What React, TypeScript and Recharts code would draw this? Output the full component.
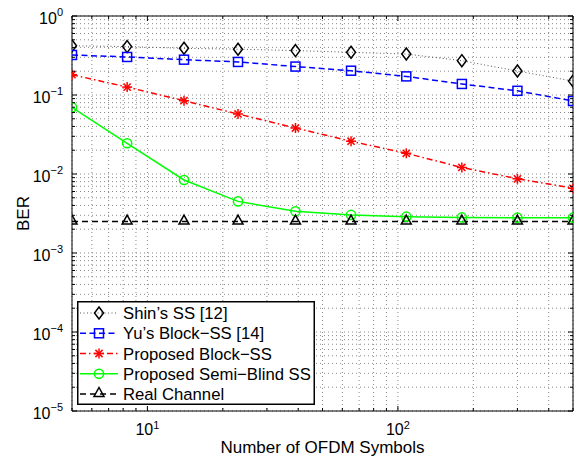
import React from 'react';
import { LineChart, Line, XAxis, YAxis, CartesianGrid, ReferenceArea, Legend } from 'recharts';

// ---- data ----
const symbols = [5, 8.3, 14, 23, 39, 65, 108, 180, 300, 500];
const shinSS = [0.42, 0.41, 0.39, 0.38, 0.365, 0.347, 0.33, 0.272, 0.201, 0.15];
const yuBlockSS = [0.321, 0.303, 0.28, 0.262, 0.229, 0.203, 0.172, 0.138, 0.113, 0.084];
const proposedBlockSS = [0.181, 0.126, 0.0847, 0.0575, 0.0382, 0.026, 0.0183, 0.0121, 0.0087, 0.0066];
const proposedSemiBlind = [0.0698, 0.0245, 0.0084, 0.0045, 0.00337, 0.00303, 0.00288, 0.00282, 0.0028, 0.0028];
const realChannel = [0.0025, 0.0025, 0.0025, 0.0025, 0.0025, 0.0025, 0.0025, 0.0025, 0.0025, 0.0025];

const xTicks = [5, 6, 7, 8, 9, 10, 20, 30, 40, 50, 60, 70, 80, 90, 100, 200, 300, 400, 500];
const yTicks = [
  1e-5, 2e-5, 3e-5, 4e-5, 5e-5, 6e-5, 7e-5, 8e-5, 9e-5,
  1e-4, 2e-4, 3e-4, 4e-4, 5e-4, 6e-4, 7e-4, 8e-4, 9e-4,
  1e-3, 2e-3, 3e-3, 4e-3, 5e-3, 6e-3, 7e-3, 8e-3, 9e-3,
  1e-2, 2e-2, 3e-2, 4e-2, 5e-2, 6e-2, 7e-2, 8e-2, 9e-2,
  1e-1, 2e-1, 3e-1, 4e-1, 5e-1, 6e-1, 7e-1, 8e-1, 9e-1,
  1,
];

const seriesNames = ['Shin’s SS [12]', 'Yu’s Block−SS [14]', 'Proposed Block−SS', 'Proposed Semi−Blind SS', 'Real Channel'];
const seriesKeys = ['shin', 'yu', 'block', 'semi', 'real'];

const data = symbols.map((x, i) => ({
  x,
  shin: shinSS[i],
  yu: yuBlockSS[i],
  block: proposedBlockSS[i],
  semi: proposedSemiBlind[i],
  real: realChannel[i],
}));

// ---- layout ----
const W = 578;
const H = 464;
const M_TOP = 16;
const M_RIGHT = 5;
const Y_AXIS_W = 72;
const X_AXIS_H = 53;
const PLOT_W = W - Y_AXIS_W - M_RIGHT;
const PLOT_H = H - M_TOP - X_AXIS_H;
const FONT = '"Liberation Sans", Arial, Helvetica, sans-serif';

const isMajor = (v: number) => Math.abs(Math.log10(v) - Math.round(Math.log10(v))) < 1e-6;
const expStr = (v: number) => {
  const e = Math.round(Math.log10(v));
  return e < 0 ? '−' + String(-e) : String(e);
};

// ---- markers ----
type MP = { cx: number; cy: number; legend?: boolean };
const Diamond = ({ cx, cy }: MP) => (
  <path d={`M${cx},${cy - 6} L${cx + 4.5},${cy} L${cx},${cy + 6} L${cx - 4.5},${cy} Z`} fill="none" stroke="#000" strokeWidth={1.5} />
);
const Square = ({ cx, cy }: MP) => (
  <rect x={cx - 4.5} y={cy - 4.5} width={9} height={9} fill="none" stroke="#0000ff" strokeWidth={1.5} />
);
const Star = ({ cx, cy }: MP) => (
  <g stroke="#ff0000" strokeWidth={1.5}>
    <line x1={cx - 5} x2={cx + 5} y1={cy} y2={cy} />
    <line x1={cx} x2={cx} y1={cy - 5} y2={cy + 5} />
    <line x1={cx - 3.6} x2={cx + 3.6} y1={cy - 3.6} y2={cy + 3.6} />
    <line x1={cx - 3.6} x2={cx + 3.6} y1={cy + 3.6} y2={cy - 3.6} />
  </g>
);
const Circ = ({ cx, cy }: MP) => <circle cx={cx} cy={cy} r={4.6} fill="none" stroke="#00ff00" strokeWidth={1.5} />;
const Tri = ({ cx, cy }: MP) => (
  <path d={`M${cx},${cy - 6.5} L${cx + 5},${cy + 2.5} L${cx - 5},${cy + 2.5} Z`} fill="none" stroke="#000" strokeWidth={1.5} />
);

const markers = [Diamond, Square, Star, Circ, Tri];
const strokes = ['#555', '#0000ff', '#ff0000', '#00ff00', '#000'];
const widths = [1, 1.5, 1.5, 1.5, 1.5];
const dashes = ['1 2.5', '6 3.5', '6 3 1.5 3', undefined, '6 4'];

// ---- ticks ----
const YTick = (props: any) => {
  const { x, y, payload } = props;
  const v = payload.value as number;
  const major = isMajor(v);
  const len = major ? 5 : 3;
  return (
    <g>
      <line x1={x} x2={x + len} y1={y} y2={y} stroke="#000" strokeWidth={1} />
      <line x1={x + PLOT_W - len} x2={x + PLOT_W} y1={y} y2={y} stroke="#000" strokeWidth={1} />
      {major && (
        <text x={x - 9} y={y + 7.5} textAnchor="end" fontSize={16} fill="#000" fontFamily={FONT}>
          10
          <tspan dy={-7.5} fontSize={11}>{expStr(v)}</tspan>
        </text>
      )}
    </g>
  );
};

const XTick = (props: any) => {
  const { x, y, payload } = props;
  const v = payload.value as number;
  const major = isMajor(v);
  const len = major ? 5 : 3;
  return (
    <g>
      <line x1={x} x2={x} y1={y} y2={y - len} stroke="#000" strokeWidth={1} />
      <line x1={x} x2={x} y1={y - PLOT_H} y2={y - PLOT_H + len} stroke="#000" strokeWidth={1} />
      {major && (
        <text x={x} y={y + 24} textAnchor="middle" fontSize={16} fill="#000" fontFamily={FONT}>
          10
          <tspan dy={-6.5} fontSize={11}>{expStr(v)}</tspan>
        </text>
      )}
    </g>
  );
};

// ---- legend ----
const LEG_W = 238;
const LEG_H = 104;
const rowY = [12, 32.3, 52.5, 72.8, 93];

const LegendBox = () => (
  <svg width={LEG_W} height={LEG_H} style={{ display: 'block' }}>
    <rect x={0.75} y={0.75} width={LEG_W - 1.5} height={LEG_H - 1.5} fill="#fff" stroke="#000" strokeWidth={1.5} />
    {seriesNames.map((name, i) => {
      const M = markers[i];
      const cy = rowY[i];
      return (
        <g key={name}>
          <line x1={3} x2={41} y1={cy} y2={cy} stroke={strokes[i]} strokeWidth={widths[i]} strokeDasharray={dashes[i]} />
          <M cx={22} cy={cy} />
          <text x={46} y={cy + 6} fontSize={16.7} fill="#000" fontFamily={FONT}>{name}</text>
        </g>
      );
    })}
  </svg>
);

export default function App() {
  return (
    <div style={{ position: 'absolute', left: 0, top: 0, background: '#fff' }}>
      <LineChart width={W} height={H} data={data} margin={{ top: M_TOP, right: M_RIGHT, bottom: 0, left: 0 }}>
        <CartesianGrid
          horizontalValues={yTicks}
          verticalValues={xTicks}
          stroke="#8a8a8a"
          strokeDasharray="1 3"
          strokeWidth={1}
        />
        <XAxis
          dataKey="x"
          type="number"
          scale="log"
          domain={[5, 500]}
          allowDataOverflow
          ticks={xTicks}
          interval={0}
          height={X_AXIS_H}
          axisLine={false}
          tickLine={false}
          tickSize={0}
          tickMargin={0}
          tick={<XTick />}
          label={{
            content: (p: any) => {
              const vb = p.viewBox || { x: Y_AXIS_W, y: M_TOP + PLOT_H, width: PLOT_W };
              return (
                <text x={vb.x + vb.width / 2} y={vb.y + 41.7} textAnchor="middle" fontSize={17} fill="#000" fontFamily={FONT}>
                  Number of OFDM Symbols
                </text>
              );
            },
          }}
        />
        <YAxis
          type="number"
          scale="log"
          domain={[1e-5, 1]}
          allowDataOverflow
          ticks={yTicks}
          interval={0}
          width={Y_AXIS_W}
          axisLine={false}
          tickLine={false}
          tickSize={0}
          tickMargin={0}
          tick={<YTick />}
          label={{
            content: (p: any) => {
              const vb = p.viewBox || { x: 0, y: M_TOP, height: PLOT_H };
              const cx = vb.x + 28.5;
              const cy = vb.y + vb.height / 2;
              return (
                <text x={cx} y={cy} transform={`rotate(-90, ${cx}, ${cy})`} textAnchor="middle" fontSize={17} fill="#000" fontFamily={FONT}>
                  BER
                </text>
              );
            },
          }}
        />
        <ReferenceArea x1={5} x2={500} y1={1e-5} y2={1} fill="none" stroke="#000" strokeWidth={1} ifOverflow="visible" />
        {seriesKeys.map((k, i) => {
          const M = markers[i];
          return (
            <Line
              key={k}
              dataKey={k}
              name={seriesNames[i]}
              stroke={strokes[i]}
              strokeWidth={widths[i]}
              strokeDasharray={dashes[i]}
              type="linear"
              isAnimationActive={false}
              dot={(p: any) => <M key={`${k}-${p.index}`} cx={p.cx} cy={p.cy} />}
              activeDot={false}
            />
          );
        })}
        <Legend
          layout="vertical"
          align="center"
          verticalAlign="middle"
          content={() => <LegendBox />}
          wrapperStyle={{ position: 'absolute', left: 77, top: 301, width: LEG_W, height: LEG_H, margin: 0, padding: 0 }}
        />
      </LineChart>
    </div>
  );
}
